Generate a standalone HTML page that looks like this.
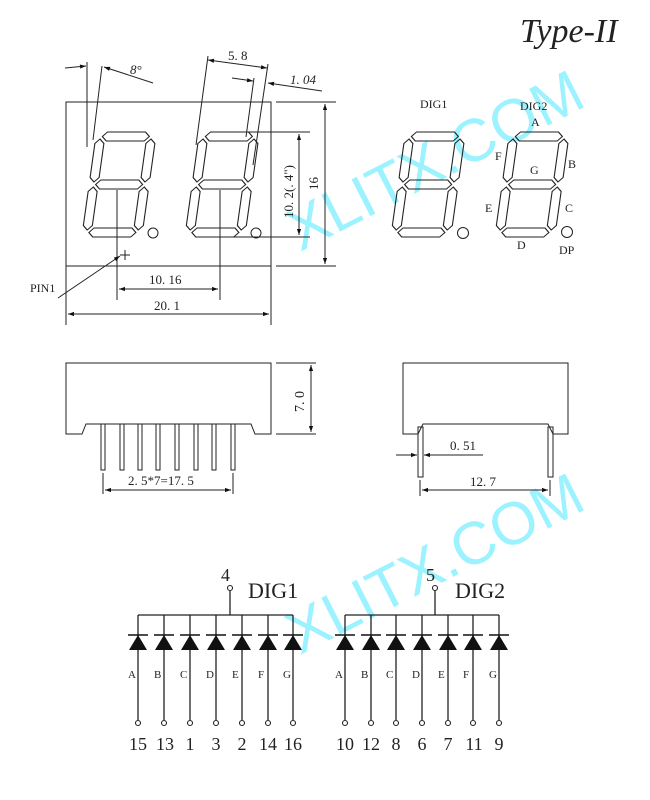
<!DOCTYPE html>
<html><head><meta charset="utf-8"><style>
html,body{margin:0;padding:0;background:#fff}
svg{display:block}
text{font-family:"Liberation Serif","Noto Serif CJK SC",serif;fill:#222}
</style></head><body>
<svg width="650" height="800" viewBox="0 0 650 800" xmlns="http://www.w3.org/2000/svg">
<defs>
<marker id="ar" viewBox="0 0 10 10" refX="10" refY="5" markerWidth="9" markerHeight="6" orient="auto-start-reverse" markerUnits="userSpaceOnUse"><path d="M0,1.5 L10,5 L0,8.5 z" fill="#111"/></marker>
<g id="dg" fill="none" stroke="#222" stroke-width="1.1">
<polygon points="4,4.5 8.5,0 46.5,0 51,4.5 46.5,9 8.5,9"/>
<polygon points="4,52.5 8.5,48 46.5,48 51,52.5 46.5,57 8.5,57"/>
<polygon points="4,100.5 8.5,96 46.5,96 51,100.5 46.5,105 8.5,105"/>
<polygon points="2,7 6.5,11.5 6.5,45.5 2,50 -2.5,45.5 -2.5,11.5"/>
<polygon points="53,7 57.5,11.5 57.5,45.5 53,50 48.5,45.5 48.5,11.5"/>
<polygon points="2,55 6.5,59.5 6.5,93.5 2,98 -2.5,93.5 -2.5,59.5"/>
<polygon points="53,55 57.5,59.5 57.5,93.5 53,98 48.5,93.5 48.5,59.5"/>
</g>
<g id="di">
<polygon points="-9,15 9,15 0,0" fill="#111"/>
<line x1="-10" y1="0" x2="10" y2="0" stroke="#111" stroke-width="1.5"/>
</g>
</defs>

<!-- watermark -->
<text x="0" y="0" transform="translate(300,252) rotate(-27)" style="font-family:'Liberation Sans',sans-serif;font-size:60px;fill:#9cf3ff">XLITX.COM</text>
<text x="0" y="0" transform="translate(300,655) rotate(-27)" style="font-family:'Liberation Sans',sans-serif;font-size:60px;fill:#9cf3ff">XLITX.COM</text>

<text x="520" y="42" style="font-size:34px;font-style:italic">Type-II</text>

<g stroke="#222" stroke-width="1" fill="none">
<rect x="66" y="102" width="205" height="164"/>
</g>
<use href="#dg" transform="translate(99,132) skewX(-8)"/>
<use href="#dg" transform="translate(202,132) skewX(-8)"/>
<circle cx="153" cy="233" r="5" fill="none" stroke="#222"/>
<circle cx="256" cy="233" r="5" fill="none" stroke="#222"/>

<g stroke="#222" stroke-width="1" fill="none">
<!-- 8 deg -->
<line x1="87" y1="62" x2="87" y2="147"/>
<line x1="102" y1="66" x2="93" y2="140"/>
<line x1="65" y1="68" x2="86" y2="66" marker-end="url(#ar)"/>
<line x1="153" y1="83" x2="104" y2="67" marker-end="url(#ar)"/>
<!-- 5.8 -->
<line x1="208" y1="56" x2="196" y2="145"/>
<line x1="268" y1="64" x2="253" y2="165"/>
<line x1="254" y1="78" x2="246" y2="137"/>
<line x1="208" y1="60" x2="267" y2="68" marker-start="url(#ar)" marker-end="url(#ar)"/>
<line x1="232" y1="78" x2="253" y2="81" marker-end="url(#ar)"/>
<line x1="322" y1="91" x2="268" y2="83" marker-end="url(#ar)"/>
<!-- right dims -->
<line x1="276" y1="102" x2="336" y2="102"/>
<line x1="276" y1="266" x2="336" y2="266"/>
<line x1="325" y1="104" x2="325" y2="264" marker-start="url(#ar)" marker-end="url(#ar)"/>
<line x1="234" y1="132" x2="310" y2="132"/>
<line x1="233" y1="237" x2="310" y2="237"/>
<line x1="299" y1="134" x2="299" y2="235" marker-start="url(#ar)" marker-end="url(#ar)"/>
<!-- bottom dims -->
<line x1="117" y1="190" x2="117" y2="300"/>
<line x1="220" y1="190" x2="220" y2="300"/>
<line x1="119" y1="289" x2="218" y2="289" marker-start="url(#ar)" marker-end="url(#ar)"/>
<line x1="66" y1="266" x2="66" y2="325"/>
<line x1="271" y1="266" x2="271" y2="325"/>
<line x1="68" y1="314" x2="269" y2="314" marker-start="url(#ar)" marker-end="url(#ar)"/>
<line x1="58" y1="298" x2="120" y2="256" marker-end="url(#ar)"/>
<line x1="120" y1="255" x2="130" y2="255"/>
<line x1="125" y1="250" x2="125" y2="260"/>
</g>
<text x="130" y="74" style="font-size:13px;font-style:italic">8°</text>
<text x="228" y="60" style="font-size:13px">5. 8</text>
<text x="290" y="84" style="font-size:13px;font-style:italic">1. 04</text>
<text transform="translate(318,190) rotate(-90)" style="font-size:13px">16</text>
<text transform="translate(293,218) rotate(-90)" style="font-size:13px">10. 2(. 4")</text>
<text x="149" y="284" style="font-size:13px">10. 16</text>
<text x="154" y="310" style="font-size:13px">20. 1</text>
<text x="30" y="292" style="font-size:12px">PIN1</text>

<!-- right digits -->
<use href="#dg" transform="translate(408,132) skewX(-8)"/>
<use href="#dg" transform="translate(512,132) skewX(-8)"/>
<circle cx="463" cy="233" r="5.5" fill="none" stroke="#222"/>
<circle cx="567" cy="232" r="5.5" fill="none" stroke="#222"/>
<g style="font-size:12px">
<text x="420" y="108">DIG1</text>
<text x="520" y="110">DIG2</text>
<text x="531" y="126">A</text>
<text x="495" y="160">F</text>
<text x="568" y="168">B</text>
<text x="530" y="174">G</text>
<text x="485" y="212">E</text>
<text x="565" y="212">C</text>
<text x="517" y="249">D</text>
<text x="559" y="254">DP</text>
</g>

<!-- side views -->
<g stroke="#222" stroke-width="1" fill="none">
<path d="M66,363 H271 V434 H255 L251,424 H86 L82,434 H66 Z"/>
<line x1="276" y1="363" x2="316" y2="363"/>
<line x1="276" y1="434" x2="316" y2="434"/>
<line x1="311" y1="365" x2="311" y2="432" marker-start="url(#ar)" marker-end="url(#ar)"/>
<rect x="101" y="424" width="4" height="46"/>
<rect x="120" y="424" width="4" height="46"/>
<rect x="138" y="424" width="4" height="46"/>
<rect x="156" y="424" width="4" height="46"/>
<rect x="175" y="424" width="4" height="46"/>
<rect x="194" y="424" width="4" height="46"/>
<rect x="212" y="424" width="4" height="46"/>
<rect x="231" y="424" width="4" height="46"/>
<line x1="103" y1="473" x2="103" y2="494"/>
<line x1="233" y1="473" x2="233" y2="494"/>
<line x1="105" y1="490" x2="231" y2="490" marker-start="url(#ar)" marker-end="url(#ar)"/>

<path d="M403,363 H568 V434 H553 L548,424 H423 L418,434 H403 Z"/>
<rect x="418" y="427" width="5" height="50"/>
<rect x="548" y="427" width="5" height="50"/>
<line x1="396" y1="455" x2="417" y2="455" marker-end="url(#ar)"/>
<line x1="483" y1="455" x2="424" y2="455" marker-end="url(#ar)"/>
<line x1="420" y1="480" x2="420" y2="496"/>
<line x1="550" y1="480" x2="550" y2="496"/>
<line x1="422" y1="490" x2="548" y2="490" marker-start="url(#ar)" marker-end="url(#ar)"/>
</g>
<text transform="translate(304,412) rotate(-90)" style="font-size:14px">7. 0</text>
<text x="128" y="485" style="font-size:13px">2. 5*7=17. 5</text>
<text x="450" y="450" style="font-size:13px">0. 51</text>
<text x="470" y="486" style="font-size:13px">12. 7</text>

<!-- schematic -->
<g stroke="#222" stroke-width="1.3" fill="none">
<line x1="138" y1="615" x2="293" y2="615"/>
<line x1="230" y1="615" x2="230" y2="591"/>
<line x1="345" y1="615" x2="499" y2="615"/>
<line x1="435" y1="615" x2="435" y2="591"/>
<path d="M138,615V720 M164,615V720 M190,615V720 M216,615V720 M242,615V720 M268,615V720 M293,615V720"/>
<path d="M345,615V720 M371,615V720 M396,615V720 M422,615V720 M448,615V720 M473,615V720 M499,615V720"/>
</g>
<g fill="#fff" stroke="#222" stroke-width="1.1">
<circle cx="230" cy="588" r="2.5"/><circle cx="435" cy="588" r="2.5"/>
<circle cx="138" cy="723" r="2.5"/><circle cx="164" cy="723" r="2.5"/><circle cx="190" cy="723" r="2.5"/><circle cx="216" cy="723" r="2.5"/><circle cx="242" cy="723" r="2.5"/><circle cx="268" cy="723" r="2.5"/><circle cx="293" cy="723" r="2.5"/>
<circle cx="345" cy="723" r="2.5"/><circle cx="371" cy="723" r="2.5"/><circle cx="396" cy="723" r="2.5"/><circle cx="422" cy="723" r="2.5"/><circle cx="448" cy="723" r="2.5"/><circle cx="473" cy="723" r="2.5"/><circle cx="499" cy="723" r="2.5"/>
</g>
<use href="#di" x="138" y="635"/><use href="#di" x="164" y="635"/><use href="#di" x="190" y="635"/><use href="#di" x="216" y="635"/><use href="#di" x="242" y="635"/><use href="#di" x="268" y="635"/><use href="#di" x="293" y="635"/>
<use href="#di" x="345" y="635"/><use href="#di" x="371" y="635"/><use href="#di" x="396" y="635"/><use href="#di" x="422" y="635"/><use href="#di" x="448" y="635"/><use href="#di" x="473" y="635"/><use href="#di" x="499" y="635"/>
<g style="font-size:11px">
<text x="128" y="678">A</text><text x="154" y="678">B</text><text x="180" y="678">C</text><text x="206" y="678">D</text><text x="232" y="678">E</text><text x="258" y="678">F</text><text x="283" y="678">G</text>
<text x="335" y="678">A</text><text x="361" y="678">B</text><text x="386" y="678">C</text><text x="412" y="678">D</text><text x="438" y="678">E</text><text x="463" y="678">F</text><text x="489" y="678">G</text>
</g>
<text x="221" y="581" style="font-size:18px">4</text>
<text x="426" y="581" style="font-size:18px">5</text>
<text x="248" y="598" style="font-size:22px">DIG1</text>
<text x="455" y="598" style="font-size:22px">DIG2</text>
<g style="font-size:18px" text-anchor="middle">
<text x="138" y="750">15</text><text x="165" y="750">13</text><text x="190" y="750">1</text><text x="216" y="750">3</text><text x="242" y="750">2</text><text x="268" y="750">14</text><text x="293" y="750">16</text>
<text x="345" y="750">10</text><text x="371" y="750">12</text><text x="396" y="750">8</text><text x="422" y="750">6</text><text x="448" y="750">7</text><text x="474" y="750">11</text><text x="499" y="750">9</text>
</g>
</svg>
</body></html>
